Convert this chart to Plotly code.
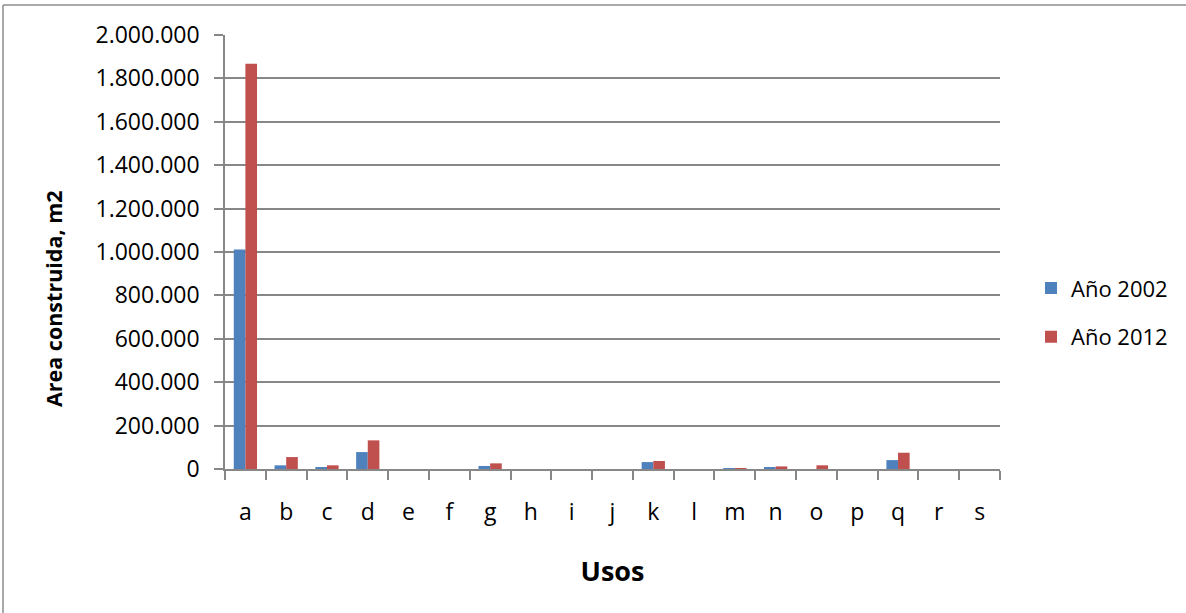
import plotly.graph_objects as go

# Uso categories and built area (m2) per year
usos = ["a", "b", "c", "d", "e", "f", "g", "h", "i", "j",
        "k", "l", "m", "n", "o", "p", "q", "r", "s"]
area_2002 = [1012000, 17000, 9000, 78000, 0, 0, 14000, 0, 0, 0,
             32000, 0, 3000, 8000, 0, 0, 41000, 0, 0]
area_2012 = [1868000, 55000, 17000, 132000, 0, 0, 26000, 0, 0, 0,
             37000, 0, 3000, 12000, 17000, 0, 75000, 0, 0]

FONT = "Open Sans"
GRID = "#878787"

fig = go.Figure()
fig.add_trace(go.Bar(x=usos, y=area_2002, name="Año 2002",
                     marker=dict(color="#4F81BD", line=dict(width=0)),
                     legendgroup="g1"))
fig.add_trace(go.Bar(x=usos, y=area_2012, name="Año 2012",
                     marker=dict(color="#C0504D", line=dict(width=0)),
                     legendgroup="g2"))

fig.update_layout(
    width=1186, height=613,
    margin=dict(l=225, r=186, t=35, b=144),
    paper_bgcolor="white", plot_bgcolor="white",
    separators=",.",
    barmode="group", bargap=0.43, bargroupgap=0,
    font=dict(family=FONT, size=23, color="black"),
    legend=dict(x=1.04, xanchor="left", y=0.36, yanchor="middle",
                font=dict(size=22), tracegroupgap=17,
                bgcolor="rgba(0,0,0,0)"),
    showlegend=True,
)

fig.update_xaxes(
    type="category", tickson="boundaries",
    showline=True, linecolor=GRID, linewidth=1.5,
    ticks="outside", ticklen=9, tickcolor=GRID, tickwidth=1.5,
    ticklabelstandoff=22,
    showgrid=False,
    title=dict(text="<b>Usos</b>", font=dict(size=27), standoff=36),
)
fig.update_yaxes(
    range=[0, 2000000], dtick=200000, tickformat=",d",
    showline=True, linecolor=GRID, linewidth=1.5,
    ticks="outside", ticklen=9, tickcolor=GRID, tickwidth=1.5,
    ticklabelstandoff=10,
    showgrid=True, gridcolor=GRID, gridwidth=1.5,
    zeroline=False,
)

# vertical axis title
fig.add_annotation(text="<b>Area construida, m2</b>", textangle=-90,
                   xref="paper", yref="paper",
                   x=(53 - 225) / 775, y=(469 - 299) / 434,
                   xanchor="center", yanchor="middle", showarrow=False,
                   font=dict(size=21.5))

# chart frame (top and left edges)
fig.add_shape(type="line", xref="paper", yref="paper",
              x0=-222 / 775, x1=1.3, y0=1 + 30 / 434, y1=1 + 30 / 434,
              line=dict(color="#8c8c8c", width=1.5))
fig.add_shape(type="line", xref="paper", yref="paper",
              x0=-222 / 775, x1=-222 / 775, y0=-0.4, y1=1 + 30 / 434,
              line=dict(color="#8c8c8c", width=1.5))

fig.write_html("out.html")
